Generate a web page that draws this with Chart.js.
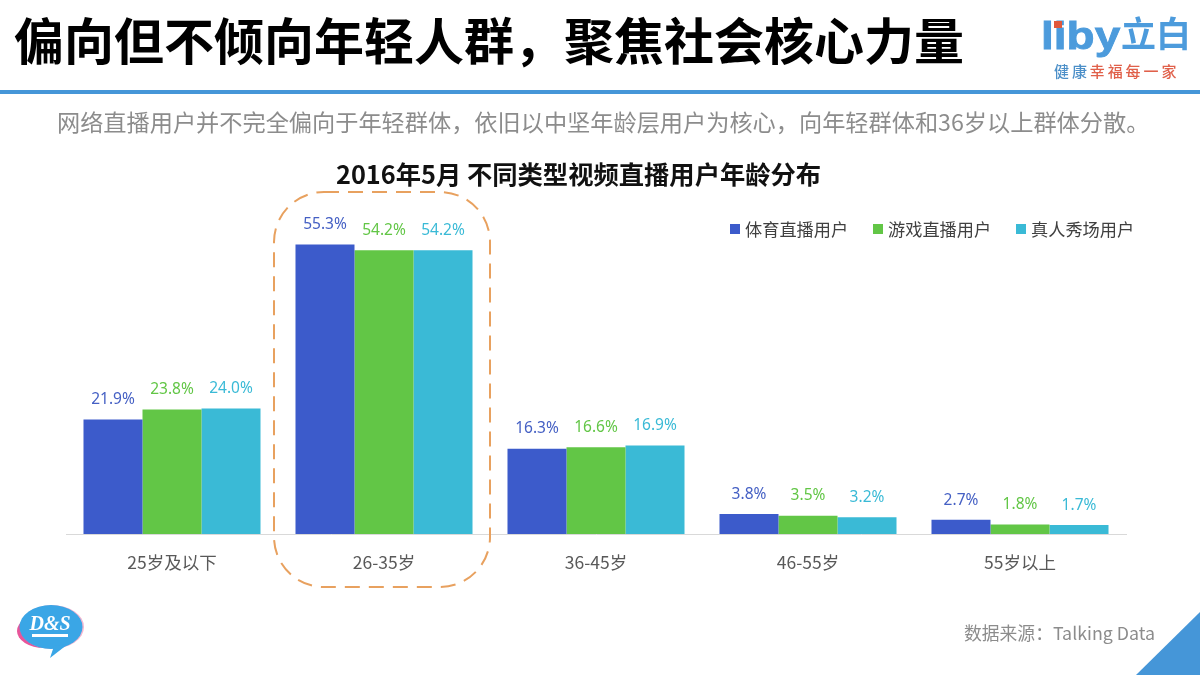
<!DOCTYPE html>
<html>
<head>
<meta charset="utf-8">
<script src="https://cdn.jsdelivr.net/npm/chart.js@4"></script>
<style>
html, body { margin: 0; padding: 0; background: #fff; }
body { width: 1200px; height: 675px; position: relative; overflow: hidden; font-family: "Noto Sans CJK SC", "Noto Sans", sans-serif; }
.abs { position: absolute; white-space: nowrap; }
#head { left: 14px; top: 2px; font-size: 50px; line-height: 72px; font-weight: 700; color: #000; }
#rule { left: 0; top: 90px; width: 1200px; height: 4px; background: #4596D8; }
#sub { left: 57px; top: 104px; font-size: 23.2px; line-height: 34px; color: #8c8c8c; }
#ctitle { left: 336px; top: 155px; font-size: 25.3px; line-height: 36px; font-weight: 700; color: #111; }
#legend { left: 730px; top: 218px; font-size: 17.2px; line-height: 22px; color: #404040; }
#legend span { position: absolute; top: 0; white-space: nowrap; }
#legend i { position: absolute; top: 6px; width: 10px; height: 10px; }
#src { left: 964px; top: 618px; font-size: 17.8px; line-height: 28px; color: #8c8c8c; }
#corner { left: 1136px; top: 612px; width: 64px; height: 63px; background: #4596D8; clip-path: polygon(100% 0, 100% 100%, 0 100%); }
#liby { left: 1041px; top: 13px; font-family: "Liberation Sans", sans-serif; font-size: 46px; line-height: 54px; font-weight: 700; color: #4C9BDC; -webkit-text-stroke: 1px #4C9BDC; transform: scaleY(0.84); transform-origin: 0 0; }
#libydot { left: 1054px; top: 21px; width: 8px; height: 7px; background: #E0583C; }
#libycn { left: 1121px; top: 12px; font-size: 35px; line-height: 40px; font-weight: 700; color: #4C9BDC; }
#slogan { left: 1054px; top: 62px; font-size: 15px; line-height: 18px; font-weight: 500; color: #E0604A; letter-spacing: 2.9px; }
#slogan b { color: #4C8FC8; font-weight: 500; }
#chartBox { left: 0; top: 0; width: 1200px; height: 675px; }
#ds { left: 14px; top: 602px; }
</style>
</head>
<body>
<div class="abs" id="chartBox"><canvas id="ageChart" width="1200" height="675"></canvas></div>
<div class="abs" id="head">偏向但不倾向年轻人群，聚焦社会核心力量</div>
<div class="abs" id="rule"></div>
<div class="abs" id="liby">liby</div>
<div class="abs" id="libydot"></div>
<div class="abs" id="libycn">立白</div>
<div class="abs" id="slogan"><b>健康</b>幸福每一家</div>
<div class="abs" id="sub">网络直播用户并不完全偏向于年轻群体，依旧以中坚年龄层用户为核心，向年轻群体和36岁以上群体分散。</div>
<div class="abs" id="ctitle">2016年5月 不同类型视频直播用户年龄分布</div>
<div class="abs" id="legend"></div>
<div class="abs" id="src">数据来源：Talking Data</div>
<div class="abs" id="corner"></div>
<svg class="abs" id="ds" width="74" height="60" viewBox="0 0 74 60">
  <ellipse cx="30" cy="29" rx="27" ry="17" fill="#E8559A"/>
  <ellipse cx="38" cy="25" rx="32" ry="22" fill="#F4B6D0"/>
  <ellipse cx="37" cy="25" rx="31.5" ry="22" fill="#3AA6E6"/>
  <path d="M40 44 L36 56 L54 42 Z" fill="#3AA6E6"/>
  <text x="36" y="28" text-anchor="middle" font-family="Liberation Serif" font-style="italic" font-weight="700" font-size="20" fill="#fff">D&amp;S</text>
  <rect x="18" y="32" width="36" height="3" fill="#fff"/>
</svg>

<script>
// ====== DATA ======
const categories = ['25岁及以下', '26-35岁', '36-45岁', '46-55岁', '55岁以上'];
const sportsUsers = [21.9, 55.3, 16.3, 3.8, 2.7];
const gameUsers = [23.8, 54.2, 16.6, 3.5, 1.8];
const showUsers = [24.0, 54.2, 16.9, 3.2, 1.7];
const seriesNames = ['体育直播用户', '游戏直播用户', '真人秀场用户'];
const seriesColors = ['#3C5BCB', '#62C646', '#3ABAD6'];
const labelColors = ['#4560C4', '#62C646', '#3ABAD6'];
const legendLeft = [0, 143, 286];

// ====== LEGEND ======
const legendEl = document.getElementById('legend');
seriesNames.forEach((name, i) => {
    legendEl.insertAdjacentHTML('beforeend',
        '<i style="left:' + legendLeft[i] + 'px;background:' + seriesColors[i] + '"></i>' +
        '<span style="left:' + (legendLeft[i] + 15) + 'px">' + name + '</span>');
});

// labels over the bars and the dashed box round the 26-35 group
const barLabels = {
    id: 'barLabels',
    afterDatasetsDraw(chart) {
        const c = chart.ctx;
        c.save();
        c.font = '15.5px "Noto Sans", "Noto Sans CJK SC", sans-serif';
        c.textAlign = 'center';
        c.textBaseline = 'bottom';
        chart.data.datasets.forEach((ds, i) => {
            chart.getDatasetMeta(i).data.forEach((bar, j) => {
                c.fillStyle = labelColors[i];
                c.fillText(ds.data[j].toFixed(1) + '%', bar.x, bar.y - 12);
            });
        });
        const mid = chart.scales.x.getPixelForValue(1);
        c.strokeStyle = '#E8A15F';
        c.lineWidth = 2;
        c.setLineDash([15, 9]);
        c.beginPath();
        c.roundRect(mid - 110, 192, 216, 395, 50);
        c.stroke();
        c.restore();
    }
};

const ageChart = new Chart(document.getElementById('ageChart').getContext('2d'), {
    type: 'bar',
    data: {
        labels: categories,
        datasets: [
            { label: seriesNames[0], data: sportsUsers, backgroundColor: seriesColors[0] },
            { label: seriesNames[1], data: gameUsers, backgroundColor: seriesColors[1] },
            { label: seriesNames[2], data: showUsers, backgroundColor: seriesColors[2] }
        ]
    },
    options: {
        responsive: false,
        animation: false,
        devicePixelRatio: 1,
        categoryPercentage: 0.835,
        barPercentage: 1,
        layout: { padding: { left: 66, right: 74, top: 220, bottom: 92 } },
        plugins: { legend: { display: false }, title: { display: false }, tooltip: { enabled: false } },
        scales: {
            x: {
                grid: { display: false },
                border: { color: '#D9D9D9', width: 1 },
                ticks: { color: '#595959', padding: 10, maxRotation: 0, font: { size: 17.5, family: '"Noto Sans CJK SC", sans-serif' } }
            },
            y: { display: false, min: 0, max: 60 }
        }
    },
    plugins: [barLabels]
});
</script>
</body>
</html>
